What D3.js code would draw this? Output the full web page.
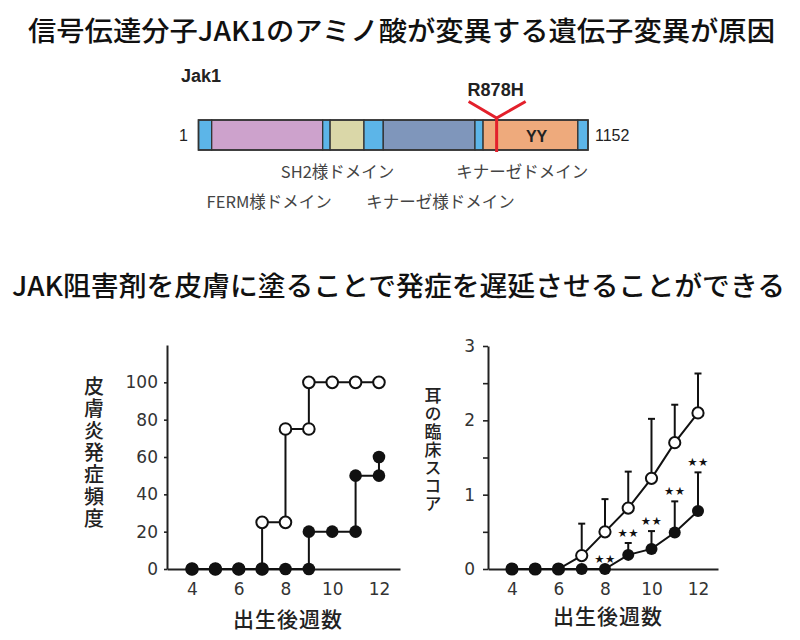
<!DOCTYPE html>
<html><head><meta charset="utf-8">
<script src="https://cdn.jsdelivr.net/npm/d3@7"></script>
<style>body{margin:0;background:#fff} svg{display:block}</style>
</head><body>
<svg id="c" width="800" height="640"></svg>
<script>
// ---------- data ----------
const title1 = "信号伝達分子JAK1のアミノ酸が変異する遺伝子変異が原因";
const title2 = "JAK阻害剤を皮膚に塗ることで発症を遅延させることができる";
const proteinName = "Jak1";
const proteinLength = 1152;
const segStart = [1, 40, 368, 390, 490, 547, 818, 842, 1122];
const segEnd   = [40, 368, 390, 490, 547, 818, 842, 1122, 1152];
const segKind  = ["linker","FERM","linker","SH2","linker","pseudo","linker","kinase","linker"];
const mutationPos = 882;
const mutationLabel = "R878H";
const motifLabel = "YY";
const motifPos = 1000;
const domainLabelText = ["SH2様ドメイン","キナーゼドメイン","FERM様ドメイン","キナーゼ様ドメイン"];
const domainLabelPos  = [412, 958, 210, 716];
const domainLabelRow  = [0, 0, 1, 1];

// left chart: incidence (%) step curves
const incOpenX   = [4,5,6,7,7,8,8,9,9,10,11,12];
const incOpenY   = [0,0,0,0,25,25,75,75,100,100,100,100];
const incFilledX = [4,5,6,7,8,9,9,10,11,11,12,12];
const incFilledY = [0,0,0,0,0,0,20,20,20,50,50,60];
const incYTicks  = [0,20,40,60,80,100];
const xTicks     = [4,6,8,10,12];

// right chart: ear clinical score, mean + SD
const weeks       = [4,5,6,7,8,9,10,11,12];
const scoreOpen   = [0,0,0,0.18,0.50,0.82,1.22,1.70,2.10];
const sdOpen      = [0,0,0,0.43,0.44,0.49,0.80,0.51,0.53];
const scoreFilled = [0,0,0,0,0,0.19,0.27,0.49,0.78];
const sdFilled    = [0,0,0,0,0,0.16,0.24,0.42,0.52];
const signif      = ["","","","","★★","★★","★★","★★","★★"];
const scoreYTicks = [0,0.5,1,1.5,2,2.5,3];

const xTitle = "出生後週数";
const yTitleLeft = "皮膚炎発症頻度";
const yTitleRight = "耳の臨床スコア";

// ---------- drawing ----------
const svg = d3.select("#c");
const JP = "'Noto Sans CJK JP','Noto Sans',sans-serif";
const NUM = "'Liberation Sans',Arial,sans-serif";
const TICK = "'DejaVu Sans',sans-serif";
const segColor = {linker:"#5cb5e8", FERM:"#cda2cc", SH2:"#dad7a8", pseudo:"#7f96bb", kinase:"#eeaa7c"};

svg.append("text").attr("x",28).attr("y",29).attr("dominant-baseline","central")
  .attr("font-family",JP).attr("font-size",27).attr("font-weight",500).attr("fill","#111")
  .attr("textLength",747).attr("lengthAdjust","spacingAndGlyphs").text(title1);
svg.append("text").attr("x",12).attr("y",284).attr("dominant-baseline","central")
  .attr("font-family",JP).attr("font-size",27).attr("font-weight",500).attr("fill","#111")
  .attr("textLength",773).attr("lengthAdjust","spacingAndGlyphs").text(title2);

// protein diagram
const px = d3.scaleLinear().domain([1, proteinLength]).range([198.5, 588]);
const barTop = 120, barH = 30;
const g0 = svg.append("g");
g0.append("text").attr("x",181).attr("y",82).attr("font-family",NUM).attr("font-weight","bold")
  .attr("font-size",18).attr("fill","#222").text(proteinName);
g0.selectAll("rect.seg").data(segStart).join("rect").attr("class","seg")
  .attr("x",(d)=>px(d)).attr("y",barTop)
  .attr("width",(d,i)=>px(segEnd[i])-px(d)).attr("height",barH)
  .attr("fill",(d,i)=>segColor[segKind[i]]).attr("stroke","#333").attr("stroke-width",1.3);
g0.append("rect").attr("x",px(1)).attr("y",barTop).attr("width",px(proteinLength)-px(1)).attr("height",barH)
  .attr("fill","none").attr("stroke","#333").attr("stroke-width",1.6);
g0.append("text").attr("x",px(1)-15).attr("y",barTop+barH/2).attr("dominant-baseline","central")
  .attr("text-anchor","middle").attr("font-family",NUM).attr("font-size",16).attr("fill","#222").text("1");
g0.append("text").attr("x",px(proteinLength)+7).attr("y",barTop+barH/2).attr("dominant-baseline","central")
  .attr("font-family",NUM).attr("font-size",16).attr("fill","#222").text(String(proteinLength));
g0.append("text").attr("x",px(motifPos)).attr("y",barTop+barH/2+1).attr("dominant-baseline","central")
  .attr("text-anchor","middle").attr("font-family",NUM).attr("font-weight","bold").attr("font-size",16).attr("fill","#222").text(motifLabel);
const mx = px(mutationPos);
const red = "#e3202b";
g0.append("line").attr("x1",mx).attr("x2",mx).attr("y1",barTop-2).attr("y2",barTop+barH+2).attr("stroke",red).attr("stroke-width",3);
g0.append("path").attr("d",`M${mx-28},101.5L${mx},118L${mx+29},101.5`).attr("fill","none").attr("stroke",red).attr("stroke-width",3);
g0.append("text").attr("x",mx-1).attr("y",96).attr("text-anchor","middle").attr("font-family",NUM)
  .attr("font-weight","bold").attr("font-size",18).attr("fill","#222").text(mutationLabel);
g0.selectAll("text.dl").data(domainLabelText).join("text").attr("class","dl")
  .attr("x",(d,i)=>px(domainLabelPos[i])).attr("y",(d,i)=>178+domainLabelRow[i]*30)
  .attr("text-anchor","middle").attr("font-family",JP).attr("font-size",16.5).attr("fill","#444").text(d=>d);

// common helpers
function styleAxis(g){
  g.select(".domain").attr("stroke","#222").attr("stroke-width",2);
  g.selectAll(".tick line").attr("stroke","#222").attr("stroke-width",1.6);
  g.selectAll(".tick text").attr("font-family",TICK).attr("font-size",17).attr("fill","#333");
}
function vtitle(x, y, text, size, spacing){
  svg.append("text").attr("x",x).attr("y",y).attr("font-family",JP).attr("font-size",size).attr("font-weight",500)
    .attr("fill","#222").style("writing-mode","vertical-rl").style("letter-spacing",spacing+"px").text(text);
}

// ---------- left chart ----------
const xL = d3.scaleLinear().domain([2.93, 12.9]).range([167, 400]);
const yL = d3.scaleLinear().domain([0, 120]).range([569, 345]);
const gL = svg.append("g");
gL.append("g").attr("transform","translate(0,569)")
  .call(d3.axisBottom(xL).tickValues(xTicks).tickSize(0).tickPadding(14).tickSizeOuter(0)).call(styleAxis);
gL.append("g").attr("transform","translate(167,0)")
  .call(d3.axisLeft(yL).tickValues(incYTicks).tickSize(3).tickPadding(6).tickSizeOuter(0)).call(styleAxis);
const lineL = d3.line().x(d=>xL(d[0])).y(d=>yL(d[1]));
const openPts = incOpenX.map((x,i)=>[x,incOpenY[i]]);
const fillPts = incFilledX.map((x,i)=>[x,incFilledY[i]]);
gL.append("path").attr("d",lineL(openPts)).attr("fill","none").attr("stroke","#111").attr("stroke-width",2);
gL.selectAll("circle.o").data(openPts).join("circle").attr("class","o")
  .attr("cx",d=>xL(d[0])).attr("cy",d=>yL(d[1])).attr("r",5.8).attr("fill","#fff").attr("stroke","#111").attr("stroke-width",2);
gL.append("path").attr("d",lineL(fillPts)).attr("fill","none").attr("stroke","#111").attr("stroke-width",2);
gL.selectAll("circle.f").data(fillPts).join("circle").attr("class","f")
  .attr("cx",d=>xL(d[0])).attr("cy",d=>yL(d[1])).attr("r",6.3).attr("fill","#111");
svg.append("text").attr("x",288).attr("y",618).attr("text-anchor","middle").attr("dominant-baseline","central")
  .attr("font-family",JP).attr("font-size",21).attr("font-weight",500).attr("fill","#222").style("letter-spacing","1px").text(xTitle);
vtitle(94, 376, yTitleLeft, 20, 2);

// ---------- right chart ----------
const xR = d3.scaleLinear().domain([2.97, 12.86]).range([488, 718]);
const yR = d3.scaleLinear().domain([0, 3]).range([569, 346]);
const gR = svg.append("g");
gR.append("g").attr("transform","translate(0,569)")
  .call(d3.axisBottom(xR).tickValues(xTicks).tickSize(0).tickPadding(14).tickSizeOuter(0)).call(styleAxis);
gR.append("g").attr("transform","translate(488,0)")
  .call(d3.axisLeft(yR).tickValues(scoreYTicks).tickFormat(d=>Number.isInteger(d)?d:"").tickSize(5).tickPadding(8).tickSizeOuter(0)).call(styleAxis);
const lineR = d3.line().x(d=>xR(d[0])).y(d=>yR(d[1]));
function series(vals, sds, filled){
  const pts = weeks.map((w,i)=>[w, vals[i], sds[i]]);
  const eb = pts.filter(d=>d[2]>0);
  gR.selectAll(null).data(eb).join("line").attr("x1",d=>xR(d[0])).attr("x2",d=>xR(d[0]))
    .attr("y1",d=>yR(d[1])).attr("y2",d=>yR(d[1]+d[2])).attr("stroke","#111").attr("stroke-width",2);
  gR.selectAll(null).data(eb).join("line").attr("x1",d=>xR(d[0])-3.5).attr("x2",d=>xR(d[0])+3.5)
    .attr("y1",d=>yR(d[1]+d[2])).attr("y2",d=>yR(d[1]+d[2])).attr("stroke","#111").attr("stroke-width",2);
  gR.append("path").attr("d",lineR(pts)).attr("fill","none").attr("stroke","#111").attr("stroke-width",2);
  gR.selectAll(null).data(pts).join("circle").attr("cx",d=>xR(d[0])).attr("cy",d=>yR(d[1]))
    .attr("r",filled?6:5.6).attr("fill",filled?"#111":"#fff").attr("stroke","#111").attr("stroke-width",filled?0:2);
}
series(scoreOpen, sdOpen, false);
series(scoreFilled, sdFilled, true);
gR.selectAll("text.sig").data(weeks).join("text").attr("class","sig")
  .attr("x",d=>xR(d)).attr("y",(d,i)=>yR(scoreFilled[i]+sdFilled[i])-10)
  .attr("text-anchor","middle").attr("dominant-baseline","central")
  .attr("font-family","'DejaVu Sans',sans-serif").attr("font-size",11.5).attr("fill","#111")
  .style("letter-spacing","0.5px").text((d,i)=>signif[i]);
svg.append("text").attr("x",608).attr("y",615).attr("text-anchor","middle").attr("dominant-baseline","central")
  .attr("font-family",JP).attr("font-size",21).attr("font-weight",500).attr("fill","#222").style("letter-spacing","1px").text(xTitle);
vtitle(433, 387, yTitleRight, 17, 1);
</script>
</body></html>
